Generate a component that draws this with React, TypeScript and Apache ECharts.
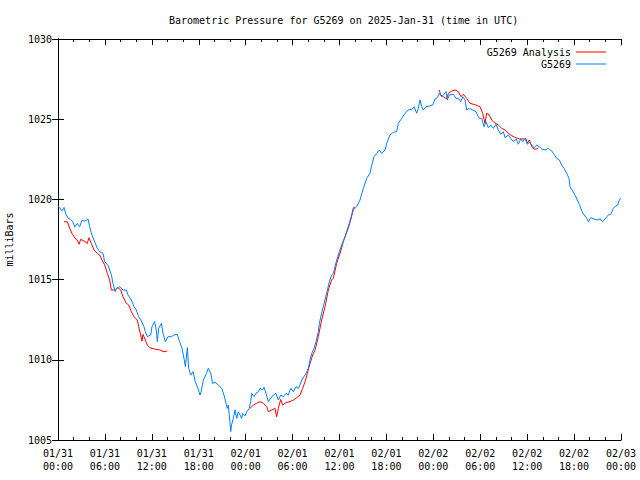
import React, { useEffect, useRef } from "react";
import * as echarts from "echarts";

// hours since 2025-01-31 00:00 UTC
const blueHours = [
  0.0, 0.2, 0.5, 0.77, 1.0, 1.28, 1.6, 1.92, 2.13, 2.47, 2.77, 3.07, 3.35, 3.62, 3.84, 4.05, 4.26, 4.69, 5.03, 5.33,
  5.76, 5.97, 6.39, 6.82, 7.03, 7.33, 7.46, 7.88, 8.31, 8.74, 8.95, 9.38, 9.72, 10.02, 10.32, 10.66, 11.0, 11.17, 11.42, 11.85,
  12.02, 12.36, 12.57, 12.7, 12.88, 13.22, 13.43, 13.73, 14.07, 14.5, 14.84, 15.26, 15.56, 15.86, 16.11, 16.29, 16.54, 16.71, 16.97, 17.27,
  17.56, 17.9, 18.16, 18.3, 18.59, 19.0, 19.22, 19.53, 19.78, 20.08, 20.5, 20.94, 21.23, 21.49, 21.65, 21.78, 22.0, 22.09, 22.2, 22.42,
  22.64, 22.85, 23.06, 23.28, 23.49, 23.62, 23.92, 24.13, 24.47, 24.64, 24.77, 25.07, 25.32, 25.62, 25.83, 26.18, 26.35, 26.6, 26.9, 27.2,
  27.54, 27.88, 28.18, 28.48, 28.82, 29.16, 29.45, 29.76, 30.1, 30.44, 30.74, 30.95, 31.17, 31.46, 31.72, 32.01, 32.23, 32.45, 32.74, 33.0,
  33.29, 33.42, 33.72, 34.02, 34.36, 34.7, 35.0, 35.21, 35.64, 35.98, 36.28, 36.71, 37.13, 37.44, 37.77, 38.2, 38.62, 39.05, 39.48, 39.9,
  40.12, 40.41, 40.76, 41.09, 41.4, 41.82, 42.04, 42.46, 42.88, 43.31, 43.52, 43.95, 44.38, 44.8, 45.24, 45.53, 45.87, 46.08, 46.3, 46.52,
  46.72, 47.07, 47.49, 47.93, 48.22, 48.51, 48.76, 49.07, 49.37, 49.62, 49.79, 50.04, 50.56, 50.9, 51.2, 51.5, 51.76, 52.05, 52.27, 52.6,
  53.03, 53.46, 53.75, 53.88, 54.19, 54.49, 54.74, 55.03, 55.34, 55.68, 56.02, 56.31, 56.62, 56.95, 57.17, 57.59, 57.9, 58.23, 58.58, 58.87,
  59.18, 59.44, 59.73, 60.02, 60.28, 60.59, 60.88, 61.22, 61.55, 61.86, 62.28, 62.71, 63.14, 63.43, 63.78, 64.11, 64.42, 64.71, 65.06, 65.35,
  65.48, 65.83, 66.12, 66.42, 66.67, 66.98, 67.27, 67.62, 67.82, 68.13, 68.55, 68.97, 69.32, 69.66, 69.96, 70.38, 70.69, 71.02, 71.37, 71.59,
  71.8, 71.98,
];
const blueValues = [
  1019.6, 1019.48, 1019.28, 1019.5, 1019.1, 1018.84, 1018.75, 1018.6, 1018.28, 1018.5, 1018.3, 1018.7, 1018.65, 1018.7, 1018.78, 1018.3, 1017.9, 1017.36, 1016.95, 1016.74,
  1016.64, 1016.12, 1015.9, 1015.29, 1014.77, 1014.25, 1014.46, 1014.56, 1014.35, 1014.35, 1014.04, 1013.73, 1013.31, 1013.1, 1012.69, 1012.42, 1012.06, 1011.75, 1011.44, 1011.55,
  1012.06, 1012.38, 1011.86, 1011.13, 1011.96, 1012.27, 1011.65, 1011.13, 1011.44, 1011.44, 1011.55, 1011.59, 1011.13, 1010.71, 1010.09, 1009.57, 1010.76, 1009.47, 1009.05, 1009.26,
  1008.63, 1008.22, 1007.8, 1008.0, 1008.74, 1009.16, 1009.47, 1009.16, 1008.53, 1008.6, 1008.43, 1008.22, 1007.8, 1007.29, 1006.97, 1007.18, 1006.04, 1005.52, 1005.94, 1006.35,
  1006.87, 1006.35, 1006.76, 1006.56, 1006.35, 1006.66, 1006.5, 1006.76, 1006.97, 1007.39, 1007.91, 1007.7, 1007.91, 1008.01, 1008.22, 1008.12, 1008.29, 1007.91, 1007.39, 1007.6,
  1007.8, 1007.91, 1007.49, 1007.8, 1007.7, 1007.91, 1007.8, 1008.22, 1008.01, 1008.32, 1008.22, 1008.43, 1008.74, 1008.95, 1009.16, 1009.47, 1009.99, 1010.4, 1010.72, 1011.13,
  1011.75, 1012.27, 1012.9, 1013.52, 1014.15, 1014.87, 1015.29, 1015.39, 1016.22, 1016.74, 1017.16, 1017.67, 1018.2, 1018.72, 1019.34, 1019.55, 1019.96, 1020.69, 1021.31, 1021.63,
  1022.14, 1022.66, 1022.87, 1023.08, 1022.87, 1023.08, 1023.5, 1024.02, 1024.18, 1024.22, 1024.74, 1025.05, 1025.37, 1025.57, 1025.62, 1025.78, 1025.37, 1025.68, 1026.2, 1025.78,
  1025.57, 1025.78, 1025.82, 1025.89, 1026.26, 1026.34, 1026.61, 1026.4, 1026.55, 1026.72, 1026.2, 1026.51, 1026.55, 1026.3, 1026.3, 1026.09, 1026.4, 1026.2, 1025.57, 1025.68,
  1025.57, 1025.47, 1025.16, 1025.05, 1025.05, 1024.53, 1024.84, 1024.47, 1024.64, 1024.43, 1024.68, 1024.33, 1024.06, 1024.22, 1023.85, 1024.01, 1023.81, 1023.6, 1023.77, 1023.44,
  1023.77, 1023.6, 1023.81, 1023.44, 1023.56, 1023.39, 1023.22, 1023.39, 1023.29, 1023.14, 1023.08, 1023.18, 1023.02, 1022.81, 1022.56, 1022.46, 1022.14, 1021.94, 1021.63, 1021.31,
  1020.79, 1020.52, 1020.27, 1019.96, 1019.69, 1019.28, 1019.03, 1018.82, 1018.61, 1018.86, 1018.78, 1018.72, 1018.78, 1018.61, 1018.78, 1019.03, 1019.07, 1019.44, 1019.61, 1019.65,
  1019.96, 1020.07,
];

// null marks gaps in the analysis series
const redHours = [
  0.77, 1.19, 1.49, 1.79, 2.13, 2.47, 2.69, 2.9, 3.33, 3.75, 3.96, 4.26, 4.6, 5.03, 5.33, 5.63, 5.97, 6.31, 6.61, 6.82,
  7.33, 7.67, 8.02, 8.31, 8.74, 9.04, 9.38, 9.72, 10.14, 10.32, 10.57, 10.74, 10.87, 11.17, 11.42, 11.72, 12.36, 13.0, 13.56, 13.98,
  19.0,
  24.56, 24.98, 25.41, 25.83, 26.26, 26.69, 26.9, 27.33, 27.75, 27.96, 28.18, 28.48, 28.74, 29.16, 29.67, 30.1, 30.53, 30.95, 31.29, 31.59,
  31.89, 32.23, 32.57, 32.87, 33.29, 33.72, 34.15, 34.57, 35.0, 35.21, 35.64, 36.07, 36.49, 36.92, 37.26, 37.56, 37.77, 37.99,
  43.0,
  48.76, 48.94, 49.28, 49.71, 49.92, 50.35, 50.78, 51.2, 51.54, 51.84, 52.27, 52.69, 53.33, 53.97, 54.31, 54.61, 54.82, 55.16, 55.47, 55.76,
  56.31, 56.75, 57.17, 57.59, 58.03, 58.45, 59.0, 59.51, 59.86, 60.02, 60.28, 60.59, 60.88, 61.22, 61.43,
];
const redValues = [
  1018.61, 1018.61, 1018.2, 1017.88, 1017.61, 1017.47, 1017.2, 1017.51, 1017.41, 1017.26, 1017.61, 1017.26, 1016.85, 1016.64, 1016.53, 1016.22, 1015.91, 1015.39, 1014.98, 1014.35,
  1014.35, 1014.5, 1014.35, 1013.93, 1013.52, 1013.42, 1013.0, 1012.69, 1012.48, 1012.06, 1011.55, 1011.17, 1011.59, 1011.23, 1010.92, 1010.76, 1010.67, 1010.61, 1010.5, 1010.55,
  null,
  1006.97, 1007.18, 1007.29, 1007.39, 1007.29, 1007.08, 1006.76, 1006.87, 1006.97, 1006.45, 1006.97, 1007.53, 1007.18, 1007.33, 1007.39, 1007.49, 1007.64, 1007.8, 1008.22, 1008.63,
  1009.16, 1009.78, 1010.3, 1010.6, 1011.44, 1012.48, 1013.31, 1014.35, 1015.0, 1015.08, 1016.02, 1016.64, 1017.36, 1017.99, 1018.51, 1019.03, 1019.48, 1019.48,
  null,
  1026.82, 1026.51, 1026.4, 1026.26, 1026.61, 1026.76, 1026.82, 1026.72, 1026.4, 1026.55, 1026.3, 1025.99, 1025.9, 1025.78, 1025.37, 1024.74, 1025.37, 1025.26, 1024.95, 1024.8,
  1024.64, 1024.43, 1024.33, 1024.12, 1023.97, 1023.87, 1023.77, 1023.77, 1023.77, 1023.5, 1023.71, 1023.29, 1023.14, 1023.14, 1023.22,
];

const tickDates = ["01/31", "01/31", "01/31", "01/31", "02/01", "02/01", "02/01", "02/01", "02/02", "02/02", "02/02", "02/02", "02/03"];
const tickTimes = ["00:00", "06:00", "12:00", "18:00", "00:00", "06:00", "12:00", "18:00", "00:00", "06:00", "12:00", "18:00", "00:00"];

const seriesNames = ["G5269 Analysis", "G5269"];
const FONT = "DejaVu Sans Mono";

export default function App() {
  const ref = useRef<HTMLDivElement>(null);
  useEffect(() => {
    if (!ref.current) return;
    const chart = echarts.init(ref.current, null, { renderer: "svg" });
    const tick = { show: true, inside: true, length: 6, lineStyle: { color: "#000", width: 1 } };
    const minor = { show: true, splitNumber: 3, length: 3, lineStyle: { color: "#000", width: 1 } };
    const axisLine = { show: true, lineStyle: { color: "#000", width: 1 } };
    const xBase = { type: "value", min: 0, max: 72, interval: 6, splitLine: { show: false }, axisLine, axisTick: tick, minorTick: minor };
    const yBase = { type: "value", min: 1005, max: 1030, interval: 5, splitLine: { show: false }, axisLine, axisTick: tick };
    chart.setOption({
      animation: false,
      backgroundColor: "#fff",
      textStyle: { fontFamily: FONT },
      title: {
        text: "Barometric Pressure for G5269 on 2025-Jan-31 (time in UTC)",
        left: 164,
        top: 10,
        textStyle: { fontFamily: FONT, fontSize: 10, fontWeight: "normal", color: "#000" },
      },
      legend: [
        {
          data: [seriesNames[0]], right: 29, top: 42, align: "right", icon: "rect", itemWidth: 30, itemHeight: 1,
          textStyle: { fontFamily: FONT, fontSize: 10, color: "#000" },
        },
        {
          data: [seriesNames[1]], right: 29, top: 54, align: "right", icon: "rect", itemWidth: 30, itemHeight: 1,
          textStyle: { fontFamily: FONT, fontSize: 10, color: "#000" },
        },
      ],
      grid: { left: 58, right: 19, top: 39, bottom: 40, containLabel: false, outerBoundsMode: "none" },
      xAxis: [
        {
          ...xBase,
          position: "bottom",
          axisLabel: {
            color: "#000", fontFamily: FONT, fontSize: 10, lineHeight: 13, margin: 7,
            formatter: (v: number) => {
              const i = Math.round(v / 6);
              return `${tickDates[i]}\n${tickTimes[i]}`;
            },
          },
        },
        { ...xBase, position: "top", axisLabel: { show: false } },
      ],
      yAxis: [
        {
          ...yBase,
          position: "left",
          name: "milliBars",
          nameLocation: "middle",
          nameGap: 44,
          nameTextStyle: { fontFamily: FONT, fontSize: 10, color: "#000" },
          axisLabel: { color: "#000", fontFamily: FONT, fontSize: 10, margin: 6, formatter: (v: number) => String(v) },
        },
        { ...yBase, position: "right", axisLabel: { show: false } },
      ],
      series: [
        {
          name: seriesNames[0],
          type: "line",
          data: redHours.map((h, i) => [h, redValues[i]]),
          showSymbol: false,
          connectNulls: false,
          lineStyle: { color: "#ff0000", width: 1 },
          itemStyle: { color: "#ff0000" },
        },
        {
          name: seriesNames[1],
          type: "line",
          data: blueHours.map((h, i) => [h, blueValues[i]]),
          showSymbol: false,
          lineStyle: { color: "#0080ff", width: 1 },
          itemStyle: { color: "#0080ff" },
        },
      ],
    });
    return () => chart.dispose();
  }, []);
  return <div ref={ref} style={{ width: 640, height: 480, position: "absolute", left: 0, top: 0 }} />;
}
